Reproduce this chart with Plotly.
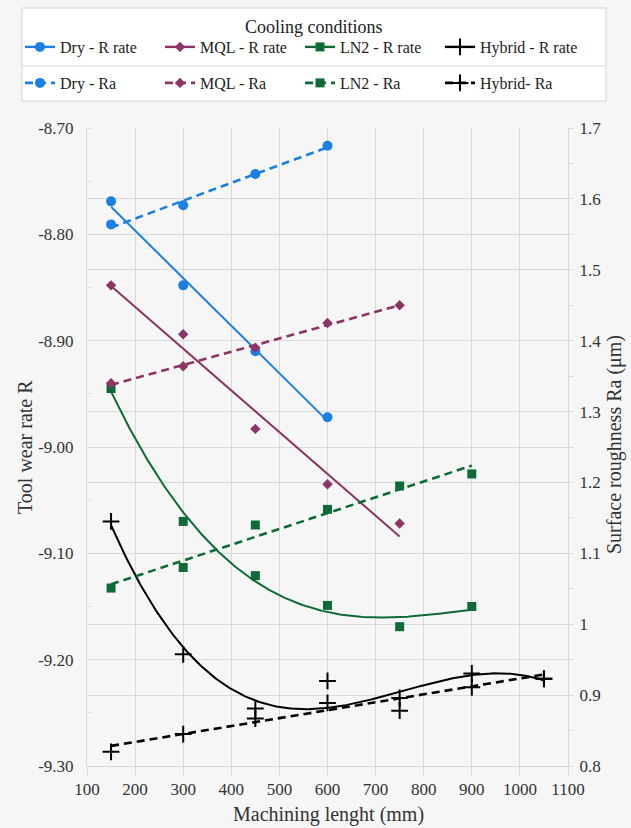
import numpy as np
import plotly.graph_objects as go

# ---------------- data ----------------
dry_x = [150, 300, 450, 600]
dry_r_rate = [-8.769, -8.848, -8.910, -8.972]
dry_ra = [1.564, 1.591, 1.635, 1.675]

mql_x = [150, 300, 450, 600, 750]
mql_r_rate = [-8.848, -8.894, -8.983, -9.035, -9.072]
mql_ra = [1.340, 1.364, 1.390, 1.425, 1.450]

ln2_x = [150, 300, 450, 600, 750, 900]
ln2_r_rate = [-8.945, -9.070, -9.121, -9.149, -9.169, -9.150]
ln2_ra = [1.051, 1.080, 1.140, 1.162, 1.195, 1.212]

hyb_x = [150, 300, 450, 600, 750, 900, 1050]
hyb_r_rate = [-9.070, -9.195, -9.246, -9.220, -9.248, -9.213, -9.218]
hyb_ra = [0.820, 0.845, 0.867, 0.889, 0.896, 0.911, 0.923]

y1_tickvals = [-9.3, -9.2, -9.1, -9.0, -8.9, -8.8, -8.7]
y1_ticktext = ["-9.30", "-9.20", "-9.10", "-9.00", "-8.90", "-8.80", "-8.70"]
y2_tickvals = [0.8, 0.9, 1.0, 1.1, 1.2, 1.3, 1.4, 1.5, 1.6, 1.7]
y2_ticktext = ["0.8", "0.9", "1", "1.1", "1.2", "1.3", "1.4", "1.5", "1.6", "1.7"]

x_title = "Machining lenght (mm)"
y_title = "Tool wear rate R"
y2_title = "Surface roughness Ra (μm)"
legend_title = "Cooling conditions"

# ---------------- styling ----------------
FONT = "Liberation Serif"
GRID = "#d9d9d9"
C_DRY = "#1c80e3"
C_MQL = "#8c3466"
C_LN2 = "#0e6b36"
C_HYB = "#000000"

series = [
    # name, x, y, axis, color, symbol, size, dash, trend degree, legend
    ("Dry - R rate", dry_x, dry_r_rate, "y", C_DRY, "circle", 10, "solid", 1, "legend"),
    ("MQL - R rate", mql_x, mql_r_rate, "y", C_MQL, "diamond", 8, "solid", 1, "legend"),
    ("LN2 - R rate", ln2_x, ln2_r_rate, "y", C_LN2, "square", 9, "solid", 3, "legend"),
    ("Hybrid - R rate", hyb_x, hyb_r_rate, "y", C_HYB, "cross-thin", 12, "solid", 3, "legend"),
    ("Dry - Ra", dry_x, dry_ra, "y2", C_DRY, "circle", 10, "8px,5px", 1, "legend2"),
    ("MQL - Ra", mql_x, mql_ra, "y2", C_MQL, "diamond", 8, "8px,5px", 1, "legend2"),
    ("LN2 - Ra", ln2_x, ln2_ra, "y2", C_LN2, "square", 9, "8px,5px", 1, "legend2"),
    ("Hybrid- Ra", hyb_x, hyb_ra, "y2", C_HYB, "cross-thin", 12, "8px,5px", 1, "legend2"),
]

fig = go.Figure()

# trend lines (Excel-style trendlines fitted to the points)
for name, xs, ys, ax, col, sym, sz, dash, deg, leg in series:
    coef = np.polyfit(xs, ys, deg)
    xf = np.linspace(min(xs), max(xs), 300)
    yf = np.polyval(coef, xf)
    lw = 2 if dash == "solid" else 2.6
    fig.add_trace(go.Scatter(x=xf, y=yf, mode="lines", yaxis=ax, showlegend=False,
                             line=dict(color=col, width=lw, dash=dash), hoverinfo="skip"))

# data points
for name, xs, ys, ax, col, sym, sz, dash, deg, leg in series:
    mline = dict(width=2, color=col) if sym == "cross-thin" else dict(width=0)
    fig.add_trace(go.Scatter(x=xs, y=ys, mode="markers", yaxis=ax, showlegend=False,
                             marker=dict(symbol=sym, size=sz, color=col, line=mline)))

# legend entries (line + marker)
for name, xs, ys, ax, col, sym, sz, dash, deg, leg in series:
    mline = dict(width=2, color=col) if sym == "cross-thin" else dict(width=0)
    lw = 2.4 if dash == "solid" else 2.6
    fig.add_trace(go.Scatter(x=[None], y=[None], mode="lines+markers", yaxis=ax, name=name,
                             legend=leg, line=dict(color=col, width=lw, dash=dash),
                             marker=dict(symbol=sym, size=sz, color=col, line=mline)))

L, R, T, B = 87, 63, 128, 62
W, H = 631, 828
pw, ph = W - L - R, H - T - B


def px_x(p):
    return (p - L) / pw


def px_y(p):
    return (H - B - p) / ph


TICKFONT = dict(size=17, color="#333333", family=FONT)
TITLEFONT = dict(size=20, color="#333333", family=FONT)

fig.update_layout(
    width=W, height=H,
    margin=dict(l=L, r=R, t=T, b=B, autoexpand=False),
    paper_bgcolor="#f6f6f6",
    plot_bgcolor="#f6f6f6",
    font=dict(family=FONT, color="#333333"),
    xaxis=dict(range=[100, 1100], tick0=100, dtick=100, showgrid=True, gridcolor=GRID,
               gridwidth=1, showline=True, linecolor=GRID, linewidth=1, zeroline=False,
               ticks="outside", ticklen=8, tickcolor=GRID, tickfont=TICKFONT,
               ticklabelstandoff=0, automargin=False),
    yaxis=dict(range=[-9.30, -8.70], tickvals=y1_tickvals, ticktext=y1_ticktext, showgrid=True,
               gridcolor=GRID, showline=True, linecolor=GRID, zeroline=False, ticks="",
               tickfont=TICKFONT, ticklabelstandoff=9, automargin=False,
               minor=dict(dtick=0.05, tick0=-9.3, ticks="inside", ticklen=4, tickcolor=GRID,
                          showgrid=False)),
    yaxis2=dict(range=[0.8, 1.7], overlaying="y", side="right", tickvals=y2_tickvals,
                ticktext=y2_ticktext, showgrid=True, gridcolor=GRID, showline=True,
                linecolor=GRID, zeroline=False, ticks="", tickfont=TICKFONT,
                ticklabelstandoff=7, automargin=False,
                minor=dict(dtick=0.05, tick0=0.8, ticks="outside", ticklen=4, tickcolor=GRID,
                           showgrid=False)),
    legend=dict(orientation="h", x=px_x(20), xanchor="left", y=px_y(47), yanchor="middle",
                bgcolor="rgba(0,0,0,0)", entrywidth=95, entrywidthmode="pixels",
                font=dict(size=16, family=FONT, color="#222")),
    legend2=dict(orientation="h", x=px_x(20), xanchor="left", y=px_y(83), yanchor="middle",
                 bgcolor="rgba(0,0,0,0)", entrywidth=95, entrywidthmode="pixels",
                 font=dict(size=16, family=FONT, color="#222")),
    shapes=[
        dict(type="rect", xref="paper", yref="paper", x0=px_x(22), x1=px_x(606),
             y0=px_y(101), y1=px_y(8), fillcolor="white", line=dict(color="#d4d4d4", width=1),
             layer="below"),
        dict(type="line", xref="paper", yref="paper", x0=px_x(22), x1=px_x(606),
             y0=px_y(66), y1=px_y(66), line=dict(color="#d4d4d4", width=1)),
    ],
    annotations=[
        dict(text=legend_title, xref="paper", yref="paper", x=px_x(314), y=px_y(27),
             xanchor="center", yanchor="middle", showarrow=False,
             font=dict(size=18, family=FONT, color="#222")),
        dict(text=x_title, xref="paper", yref="paper", x=px_x(328), y=px_y(814),
             xanchor="center", yanchor="middle", showarrow=False, font=TITLEFONT),
        dict(text=y_title, xref="paper", yref="paper", x=px_x(25), y=px_y(447),
             xanchor="center", yanchor="middle", showarrow=False, textangle=-90,
             font=TITLEFONT),
        dict(text=y2_title, xref="paper", yref="paper", x=px_x(614), y=px_y(445),
             xanchor="center", yanchor="middle", showarrow=False, textangle=-90,
             font=TITLEFONT),
    ],
)

fig.write_html("out.html")
